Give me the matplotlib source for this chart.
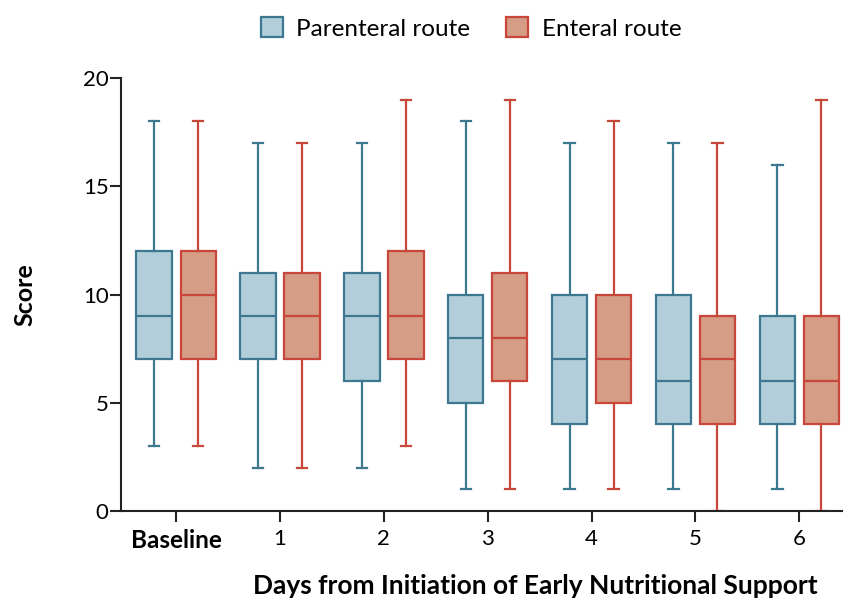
import matplotlib
matplotlib.use("Agg")
import matplotlib.pyplot as plt
from matplotlib.patches import Patch

plt.rcParams['font.family'] = ['Lato', 'DejaVu Sans']

categories = ["Baseline", "1", "2", "3", "4", "5", "6"]

par_low = [3, 2, 2, 1, 1, 1, 1]
par_q1 = [7, 7, 6, 5, 4, 4, 4]
par_med = [9, 9, 9, 8, 7, 6, 6]
par_q3 = [12, 11, 11, 10, 10, 10, 9]
par_high = [18, 17, 17, 18, 17, 17, 16]

ent_low = [3, 2, 3, 1, 1, 0, 0]
ent_q1 = [7, 7, 7, 6, 5, 4, 4]
ent_med = [10, 9, 9, 8, 7, 7, 6]
ent_q3 = [12, 11, 12, 11, 10, 9, 9]
ent_high = [18, 17, 19, 19, 18, 17, 19]

par_fill, par_edge = "#b2cedb", "#3d7890"
ent_fill, ent_edge = "#d59c86", "#c8473a"

def stats(lo, q1, med, q3, hi):
    return [dict(whislo=a, q1=b, med=c, q3=d, whishi=e, fliers=[])
            for a, b, c, d, e in zip(lo, q1, med, q3, hi)]

fig = plt.figure(figsize=(8.47, 6.03), dpi=100)
ax = fig.add_axes([0.143, 0.1526, 0.851, 0.718])

offset = 0.212
width = 0.34
pos = list(range(len(categories)))
for st, shift, fc, ec in [
    (stats(par_low, par_q1, par_med, par_q3, par_high), -offset, par_fill, par_edge),
    (stats(ent_low, ent_q1, ent_med, ent_q3, ent_high), offset, ent_fill, ent_edge),
]:
    ax.bxp(st, positions=[p + shift for p in pos], widths=width, patch_artist=True,
           showfliers=False, capwidths=0.1,
           boxprops=dict(facecolor=fc, edgecolor=ec, linewidth=1.6),
           medianprops=dict(color=ec, linewidth=1.6),
           whiskerprops=dict(color=ec, linewidth=1.6),
           capprops=dict(color=ec, linewidth=1.6), zorder=2)

ax.set_xlim(-0.53, 6.41)
ax.set_ylim(0, 20)
ax.set_xticks(pos)
ax.set_xticklabels(categories, fontsize=16)
ax.get_xticklabels()[0].set_fontweight('bold')
ax.get_xticklabels()[0].set_fontsize(17.5)
ax.set_yticks([0, 5, 10, 15, 20])
ax.set_yticklabels(["0", "5", "10", "15", "20"], fontsize=16)
for s in ["top", "right"]:
    ax.spines[s].set_visible(False)
for s in ["left", "bottom"]:
    ax.spines[s].set_linewidth(1.5)
    ax.spines[s].set_color("#222222")
    ax.spines[s].set_zorder(3)
ax.tick_params(axis='both', direction='out', length=8, width=1.5, color="#222222")
ax.tick_params(axis='y', pad=1)
ax.tick_params(axis='x', pad=5)
ax.set_xlabel("Days from Initiation of Early Nutritional Support", fontsize=19,
              fontweight='bold')
ax.xaxis.set_label_coords(0.574, -0.146)
fig.text(25 / 847, 1 - 295 / 603, "Score", rotation=90, ha='center', va='center',
         fontsize=18, fontweight='bold')

handles = [Patch(facecolor=par_fill, edgecolor=par_edge, linewidth=1.6, label="Parenteral route"),
           Patch(facecolor=ent_fill, edgecolor=ent_edge, linewidth=1.6, label="Enteral route")]
fig.legend(handles=handles, loc='center', bbox_to_anchor=(0.556, 0.953), ncol=2,
           frameon=False, fontsize=17.5, handlelength=0.9, handleheight=0.9,
           columnspacing=1.5, handletextpad=0.55)

fig.savefig("out.png", dpi=100)
